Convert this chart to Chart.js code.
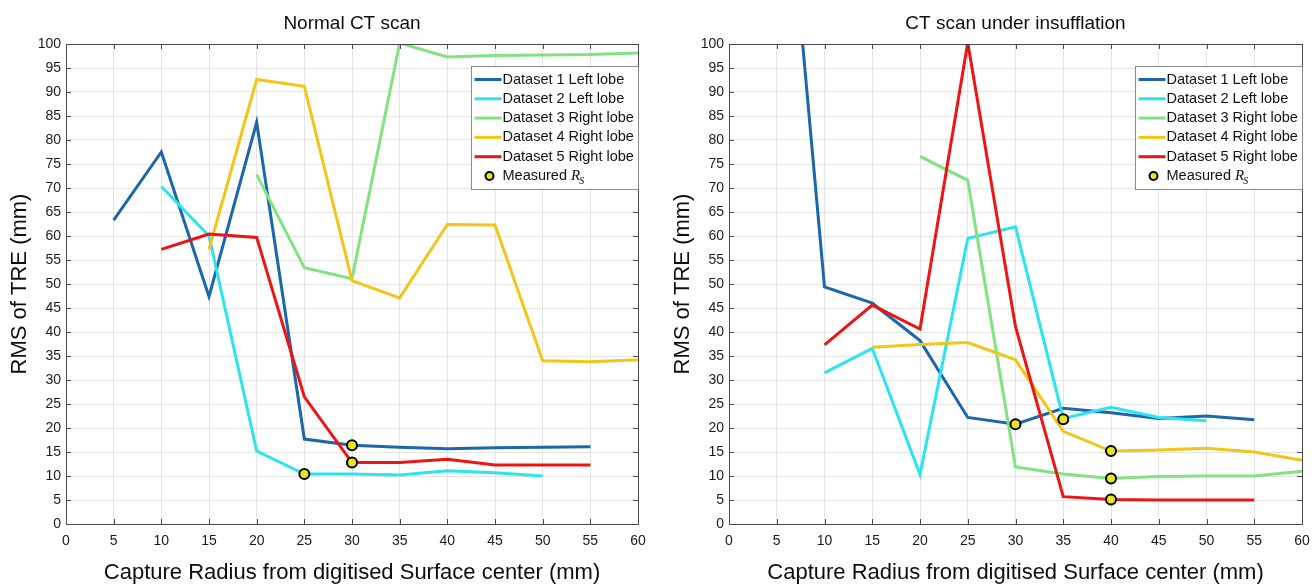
<!DOCTYPE html>
<html>
<head>
<meta charset="utf-8">
<title>RMS of TRE vs capture radius</title>
<script src="https://cdn.jsdelivr.net/npm/chart.js@4.4.1/dist/chart.umd.min.js"></script>
<style>
    html, body { margin: 0; padding: 0; background: #fff; }
    body { width: 1312px; height: 586px; position: relative; overflow: hidden; }
    .panel { position: absolute; top: 0; height: 586px; }
    #leftPanel { left: 0; width: 656px; }
    #rightPanel { left: 663px; width: 649px; }
</style>
</head>
<body>
<div class="panel" id="leftPanel"><canvas id="normalChart"></canvas></div>
<div class="panel" id="rightPanel"><canvas id="insufflationChart"></canvas></div>

<script>
// Données
const radius = [5, 10, 15, 20, 25, 30, 35, 40, 45, 50, 55, 60];
const xTicks = [0, 5, 10, 15, 20, 25, 30, 35, 40, 45, 50, 55, 60];

const seriesLabels = [
    'Dataset 1 Left lobe',
    'Dataset 2 Left lobe',
    'Dataset 3 Right lobe',
    'Dataset 4 Right lobe',
    'Dataset 5 Right lobe'
];
const seriesColors = ['#1c67ac', '#2ce4ee', '#80e380', '#f0c618', '#ee1414'];

// Normal CT scan
const normalDs1 = [63.3, 77.5, 47.4, 83.7, 17.7, 16.4, 16.0, 15.7, 15.9, 16.0, 16.1, null];
const normalDs2 = [null, 70.3, 60.0, 15.2, 10.4, 10.4, 10.2, 11.1, 10.7, 10.0, null, null];
const normalDs3 = [null, null, null, 72.8, 53.4, 51.1, 100.2, 97.3, 97.6, 97.7, 97.8, 98.1];
const normalDs4 = [null, null, 57.2, 92.6, 91.2, 50.7, 47.1, 62.4, 62.3, 34.0, 33.8, 34.2];
const normalDs5 = [null, 57.2, 60.4, 59.7, 26.5, 12.8, 12.8, 13.5, 12.3, 12.3, 12.3, null];
const normalMeasuredX = [25, 30, 30];
const normalMeasuredY = [10.4, 16.4, 12.8];

// CT scan under insufflation
const insufDs1 = [160, 49.4, 46.0, 38.2, 22.2, 20.8, 24.1, 23.2, 22.0, 22.5, 21.7, null];
const insufDs2 = [null, 31.5, 36.6, 10.3, 59.5, 61.9, 22.0, 24.3, 22.2, 21.5, null, null];
const insufDs3 = [null, null, null, 76.6, 71.6, 11.9, 10.4, 9.5, 9.9, 10.0, 10.0, 11.0];
const insufDs4 = [null, null, 36.8, 37.4, 37.8, 34.2, 19.3, 15.2, 15.4, 15.8, 15.0, 13.3];
const insufDs5 = [null, 37.3, 45.6, 40.6, 100.3, 41.1, 5.7, 5.1, 5.0, 5.0, 5.0, null];
const insufMeasuredX = [30, 35, 40, 40, 40];
const insufMeasuredY = [20.8, 21.8, 15.2, 9.5, 5.1];

const measuredLabel = 'Measured R_S';
const xTitle = 'Capture Radius from digitised Surface center (mm)';
const yTitle = 'RMS of TRE (mm)';

Chart.defaults.font.family = "'Liberation Sans', Arial, sans-serif";
Chart.defaults.color = '#1a1a1a';

// Cadre style MATLAB avec graduations intérieures
const framePlugin = {
    id: 'frame',
    afterDatasetsDraw(chart) {
        const { ctx, chartArea: a, scales } = chart;
        ctx.save();
        ctx.strokeStyle = '#4a4a4a';
        ctx.lineWidth = 1;
        ctx.beginPath();
        scales.x.ticks.forEach(t => {
            const px = Math.round(scales.x.getPixelForValue(t.value)) + 0.5;
            ctx.moveTo(px, a.bottom); ctx.lineTo(px, a.bottom - 5);
            ctx.moveTo(px, a.top); ctx.lineTo(px, a.top + 5);
        });
        scales.y.ticks.forEach(t => {
            const py = Math.round(scales.y.getPixelForValue(t.value)) + 0.5;
            ctx.moveTo(a.left, py); ctx.lineTo(a.left + 5, py);
            ctx.moveTo(a.right, py); ctx.lineTo(a.right - 5, py);
        });
        ctx.stroke();
        ctx.strokeRect(Math.round(a.left) + 0.5, Math.round(a.top) + 0.5,
            Math.round(a.right - a.left), Math.round(a.bottom - a.top));
        ctx.restore();
    }
};

// Légende dessinée dans la zone du graphique (coin supérieur droit)
const legendPlugin = {
    id: 'insideLegend',
    afterDraw(chart) {
        const { ctx, chartArea: a } = chart;
        const w = 167, h = 123;
        const x0 = Math.round(a.right - w) + 0.5;
        const y0 = Math.round(a.top + 22) + 0.5;
        const textFont = "14.5px 'Liberation Sans', Arial, sans-serif";
        ctx.save();
        ctx.fillStyle = '#fff';
        ctx.fillRect(x0, y0, w, h);
        ctx.strokeStyle = '#8a8a8a';
        ctx.lineWidth = 1;
        ctx.strokeRect(x0, y0, w, h);
        ctx.textBaseline = 'middle';
        chart.data.datasets.forEach((ds, i) => {
            const y = y0 + 13 + i * 19.3;
            if (ds.showLine === false) {
                ctx.beginPath();
                ctx.arc(x0 + 18, y, 4, 0, Math.PI * 2);
                ctx.fillStyle = ds.pointBackgroundColor;
                ctx.fill();
                ctx.lineWidth = 2;
                ctx.strokeStyle = '#000';
                ctx.stroke();
                const parts = ds.label.split('_');
                const main = parts[0].slice(0, -1);
                ctx.fillStyle = '#111';
                ctx.font = textFont;
                ctx.fillText(main, x0 + 31, y);
                let tx = x0 + 31 + ctx.measureText(main).width;
                ctx.font = "italic 15px 'Liberation Serif', 'Times New Roman', serif";
                ctx.fillText(parts[0].slice(-1), tx, y);
                tx += ctx.measureText(parts[0].slice(-1)).width;
                ctx.font = "italic 10px 'Liberation Serif', 'Times New Roman', serif";
                ctx.fillText(parts[1], tx - 1, y + 5);
            } else {
                ctx.beginPath();
                ctx.moveTo(x0 + 3, y);
                ctx.lineTo(x0 + 30, y);
                ctx.strokeStyle = ds.borderColor;
                ctx.lineWidth = 3;
                ctx.stroke();
                ctx.fillStyle = '#111';
                ctx.font = textFont;
                ctx.fillText(ds.label, x0 + 31, y);
            }
        });
        ctx.restore();
    }
};

function toPoints(values) {
    return radius
        .map((r, i) => ({ x: r, y: values[i] }))
        .filter(p => p.y !== null);
}

function buildDatasets(series, measuredX, measuredY) {
    const datasets = series.map((values, i) => ({
        label: seriesLabels[i],
        data: toPoints(values),
        borderColor: seriesColors[i],
        backgroundColor: seriesColors[i],
        borderWidth: 3,
        pointRadius: 0,
        tension: 0,
        fill: false,
        order: series.length - i
    }));
    datasets.push({
        label: measuredLabel,
        data: measuredX.map((x, i) => ({ x: x, y: measuredY[i] })),
        showLine: false,
        pointRadius: 5,
        pointHoverRadius: 5,
        pointBackgroundColor: '#e6e61c',
        pointBorderColor: '#000',
        pointBorderWidth: 2,
        order: 0
    });
    return datasets;
}

function createChart(canvasId, title, datasets, rightPad) {
    const ctx = document.getElementById(canvasId);
    return new Chart(ctx, {
        type: 'line',
        data: { datasets: datasets },
        options: {
            responsive: true,
            maintainAspectRatio: false,
            animation: false,
            layout: { padding: { top: 0, right: rightPad, bottom: 0, left: 0 } },
            plugins: {
                legend: { display: false },
                tooltip: { enabled: false },
                title: {
                    display: true,
                    text: title,
                    fullSize: false,
                    color: '#0d0d0d',
                    font: { size: 19, weight: 'normal' },
                    padding: { top: 12, bottom: 9.2 }
                }
            },
            scales: {
                x: {
                    type: 'linear',
                    min: 0,
                    max: 60,
                    afterBuildTicks: (scale) => { scale.ticks = xTicks.map(v => ({ value: v })); },
                    grid: { color: '#e4e4e4', drawTicks: false },
                    border: { display: false },
                    ticks: { padding: 9, font: { size: 14 }, color: '#1a1a1a', maxRotation: 0 },
                    title: {
                        display: true,
                        text: xTitle,
                        color: '#0d0d0d',
                        font: { size: 22 },
                        padding: { top: 0, bottom: 0 }
                    },
                    afterFit: (scale) => {
                        scale.height = 62;
                        scale.paddingLeft = 0;
                        scale.paddingRight = 0;
                    }
                },
                y: {
                    min: 0,
                    max: 100,
                    grid: { color: '#e4e4e4', drawTicks: false },
                    border: { display: false },
                    ticks: { stepSize: 5, padding: 5, font: { size: 14 }, color: '#1a1a1a' },
                    title: {
                        display: true,
                        text: yTitle,
                        color: '#0d0d0d',
                        font: { size: 22 },
                        padding: { top: 7, bottom: 0 }
                    },
                    afterFit: (scale) => {
                        scale.width = 66;
                        scale.paddingTop = 0;
                        scale.paddingBottom = 0;
                    }
                }
            }
        },
        plugins: [framePlugin, legendPlugin]
    });
}

createChart('normalChart', 'Normal CT scan',
    buildDatasets([normalDs1, normalDs2, normalDs3, normalDs4, normalDs5], normalMeasuredX, normalMeasuredY), 18);
createChart('insufflationChart', 'CT scan under insufflation',
    buildDatasets([insufDs1, insufDs2, insufDs3, insufDs4, insufDs5], insufMeasuredX, insufMeasuredY), 10);
</script>
</body>
</html>
